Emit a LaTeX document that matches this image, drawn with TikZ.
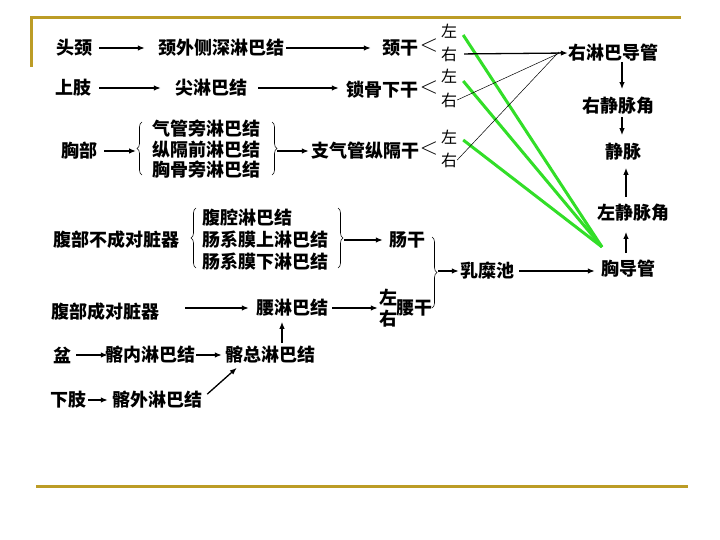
\documentclass[tikz,border=0pt]{standalone}
\usepackage{fontspec}
\setmainfont{Noto Sans CJK SC}
\newfontfamily\lmfont{Latin Modern Roman}
\usetikzlibrary{arrows.meta,decorations.pathreplacing}
\definecolor{gold}{RGB}{188,156,38}
\definecolor{lgreen}{RGB}{50,222,40}
\begin{document}
\begin{tikzpicture}[x=1pt,y=-1pt,
  lbl/.style={font=\bfseries\fontsize{18}{18}\selectfont, inner sep=0pt, anchor=center},
  lr/.style={font=\fontsize{16}{16}\selectfont, inner sep=0pt},
  lt/.style={font=\lmfont\fontsize{24}{24}\selectfont, inner sep=0pt},
  arr/.style={line width=1.3pt, -{Latex[length=7pt,width=5.5pt]}},
  thinln/.style={line width=0.5pt},
  grn/.style={draw=lgreen, line width=3pt},
  brc/.style={decorate, decoration={brace, amplitude=5pt}, line width=0.6pt},
  goldln/.style={draw=gold, line width=3pt}]
\useasboundingbox (0,0) rectangle (720,540);
% frame lines
\draw[goldln] (31,67) -- (31,18) -- (681,18);
\draw[goldln] (36,486) -- (688,486);

% row 1
\node[lbl] (tj) at (74,48) {头颈};
\node[lbl] (jwc) at (221,48) {颈外侧深淋巴结};
\node[lbl] (jg) at (400,48) {颈干};
\node[lt] (lt1) at (429,46) {<};
\node[lr] (z1) at (449,31) {左};
\node[lr] (y1) at (449,54) {右};
\node[lbl] (ylb) at (613,53) {右淋巴导管};
% row 2
\node[lbl] (sz) at (73,88) {上肢};
\node[lbl] (jl) at (211,88) {尖淋巴结};
\node[lbl] (sgx) at (382,90) {锁骨下干};
\node[lt] (lt2) at (429,88) {<};
\node[lr] (z2) at (449,76) {左};
\node[lr] (y2) at (449,100) {右};
\node[lbl] (yjm) at (618,106) {右静脉角};
% row 3
\node[lbl] (xb) at (79,151) {胸部};
\node[lbl, anchor=west] (q1) at (152,129) {气管旁淋巴结};
\node[lbl, anchor=west] (q2) at (152,150) {纵隔前淋巴结};
\node[lbl, anchor=west] (q3) at (152,170) {胸骨旁淋巴结};
\node[lbl] (zqg) at (365,151) {支气管纵隔干};
\node[lt] (lt3) at (429,149) {<};
\node[lr] (z3) at (449,137) {左};
\node[lr] (y3) at (449,160) {右};
\node[lbl] (jm) at (623,152) {静脉};
\node[lbl] (zjm) at (633,213) {左静脉角};
% abdomen
\node[lbl] (fbbc) at (116,240) {腹部不成对脏器};
\node[lbl, anchor=west] (f1) at (202,218) {腹腔淋巴结};
\node[lbl, anchor=west] (f2) at (202,240) {肠系膜上淋巴结};
\node[lbl, anchor=west] (f3) at (202,262) {肠系膜下淋巴结};
\node[lbl] (cg) at (407,240) {肠干};
\node[lbl] (rmc) at (487,271) {乳糜池};
\node[lbl] (xdg) at (628,269) {胸导管};
\node[lbl] (fbc) at (105,312) {腹部成对脏器};
\node[lbl] (ylj) at (292,308) {腰淋巴结};
\node[lbl] (z4) at (388,297) {左};
\node[lbl] (y4) at (388,319) {右};
\node[lbl] (yg) at (414,308) {腰干};
% pelvis / lower limb
\node[lbl] (pen) at (62,355) {盆};
\node[lbl] (gn) at (150,355) {髂内淋巴结};
\node[lbl] (gz) at (270,355) {髂总淋巴结};
\node[lbl] (xz) at (68,400) {下肢};
\node[lbl] (gw) at (157,400) {髂外淋巴结};

% braces
\draw[brc] (142,175) -- (142,122);
\draw[brc] (272,122) -- (272,175);
\draw[brc] (196,268) -- (196,208);
\draw[brc] (338,208) -- (338,268);
\draw[brc] (432,237) -- (432,308);
\coordinate (b1tip) at (137,151);
\coordinate (b1rt) at (277,151);
\coordinate (b2rt) at (343,240);
\coordinate (b3rt) at (437,271);
\coordinate (gtip) at (602,247);

% green lines
\draw[grn] (z1.east) ++(6,4) -- (gtip);
\draw[grn] (z2.east) ++(6,5) -- (gtip);
\draw[grn] (z3.east) ++(6,3) -- (gtip);

% thin lines to right lymphatic duct
\draw[thinln] (y2.east) -- ([xshift=-6pt,yshift=1pt]ylb.west);
\draw[thinln] (y3.east) -- ([xshift=-9pt,yshift=1pt]ylb.west);

% arrows
\draw[arr, shorten <=7pt, shorten >=13pt] (tj.east) -- (jwc.west);
\draw[arr, shorten <=2pt, shorten >=11pt] (jwc.east) -- (jg.west);
\draw[arr, shorten <=7pt, shorten >=0pt] (y1.east) -- (ylb.west);
\draw[arr, shorten <=8pt, shorten >=14pt] (sz.east) -- (jl.west);
\draw[arr, shorten <=11pt, shorten >=7pt] (jl.east) -- (sgx.west |- jl.east);
\draw[arr, shorten <=7pt, shorten >=1pt] (xb.east) -- (b1tip);
\draw[arr, shorten <=0pt, shorten >=2pt] (b1rt) -- (zqg.west);
\draw[arr, shorten <=0pt, shorten >=8pt] ([xshift=9pt]ylb.south) -- ([xshift=4pt]yjm.north);
\draw[arr, shorten <=2pt, shorten >=8pt] ([xshift=4pt]yjm.south) -- ([xshift=-1pt]jm.north);
\draw[arr, shorten <=7pt, shorten >=7pt] ([xshift=-7pt]zjm.north) -- ([xshift=3pt]jm.south);
\draw[arr, shorten <=7pt, shorten >=10pt] ([xshift=-2pt]xdg.north) -- ([xshift=-7pt]zjm.south);
\draw[arr, shorten <=1pt, shorten >=6pt] (b2rt) -- (cg.west);
\draw[arr, shorten <=1pt, shorten >=1pt] (b3rt) -- (rmc.west);
\draw[arr, shorten <=5pt, shorten >=6pt] (rmc.east) -- (xdg.west |- rmc.east);
\draw[arr, shorten <=26pt, shorten >=7pt] (fbc.east |- ylj.east) -- (ylj.west);
\draw[arr, shorten <=4pt, shorten >=18pt] (ylj.east) -- (yg.west);
\draw[arr, shorten <=3pt, shorten >=5pt] ([xshift=12pt]gz.north) -- ([xshift=-10pt]ylj.south);
\draw[arr, shorten <=5pt, shorten >=-3pt] (pen.east) -- (gn.west);
\draw[arr, shorten <=1pt, shorten >=3pt] (gn.east) -- (gz.west);
\draw[arr, shorten <=2pt, shorten >=4pt] (xz.east) -- (gw.west);
\draw[arr] ([xshift=5pt,yshift=-3pt]gw.north east) -- ([xshift=12pt,yshift=-4pt]gz.south west);
\end{tikzpicture}
\end{document}
